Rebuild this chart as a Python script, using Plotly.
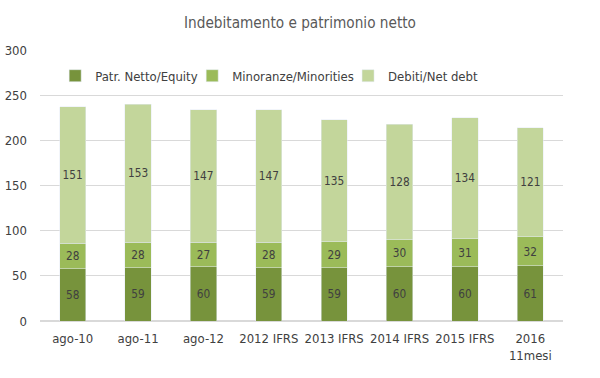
import plotly.graph_objects as go

categories = ["ago-10", "ago-11", "ago-12", "2012 IFRS", "2013 IFRS", "2014 IFRS", "2015 IFRS", "2016<br>11mesi"]
equity = [58, 59, 60, 59, 59, 60, 60, 61]
minorities = [28, 28, 27, 28, 29, 30, 31, 32]
net_debt = [151, 153, 147, 147, 135, 128, 134, 121]

FONT = "DejaVu Sans Condensed, Liberation Sans Narrow, Arial Narrow, sans-serif"
TXT = "#404040"

series = [
    ("Patr. Netto/Equity", equity, "#77933C", "legend", 0.029),
    ("Minoranze/Minorities", minorities, "#9BBB59", "legend2", 0.291),
    ("Debiti/Net debt", net_debt, "#C3D69B", "legend3", 0.589),
]

fig = go.Figure()
for name, vals, col, leg, _ in series:
    fig.add_trace(go.Bar(
        x=categories, y=vals, name=name, marker_color=col, legend=leg,
        text=vals, textposition="inside", insidetextanchor="middle", textangle=0,
        textfont=dict(color=TXT, size=13, family=FONT),
    ))

legend_layout = {}
for name, vals, col, leg, lx in series:
    legend_layout[leg] = dict(orientation="h", x=lx, xanchor="left", y=0.905, yanchor="middle",
                              font=dict(size=13, color=TXT), bgcolor="rgba(0,0,0,0)")

fig.update_layout(
    barmode="stack", bargap=0.6,
    width=600, height=378,
    margin=dict(l=40, r=37, t=50, b=57, autoexpand=False),
    paper_bgcolor="white", plot_bgcolor="white",
    font=dict(family=FONT, color=TXT, size=13),
    title=dict(text="Indebitamento e patrimonio netto", x=0.5, xanchor="center",
               y=0.94, yanchor="middle", font=dict(size=15.2, color="#595959", family=FONT)),
    showlegend=True,
    uniformtext=dict(mode="show", minsize=10),
    **legend_layout,
)
fig.update_yaxes(range=[0, 300], dtick=50, showgrid=True, gridcolor="#D9D9D9",
                 zeroline=True, zerolinecolor="#D9D9D9", ticks="", ticklabelstandoff=12,
                 tickfont=dict(size=13, color=TXT), automargin=False)
fig.update_xaxes(showline=False, ticks="", ticklabelstandoff=8,
                 tickfont=dict(size=13, color=TXT), automargin=False)

fig.write_html("out.html", config={"displayModeBar": False},
               post_script="document.body.style.margin='0';")
